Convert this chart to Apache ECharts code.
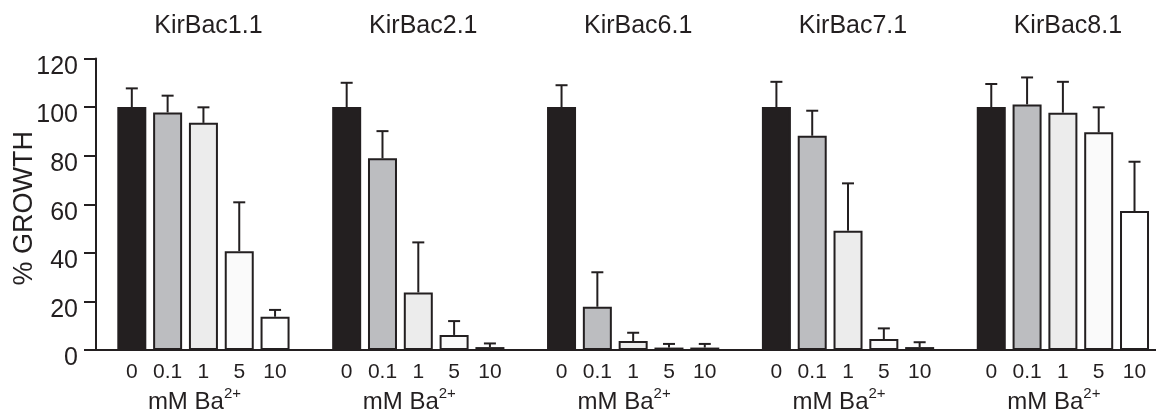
<!DOCTYPE html>
<html>
<head>
<meta charset="utf-8">
<script src="https://cdn.jsdelivr.net/npm/echarts@6/dist/echarts.min.js"></script>
<style>
  html, body { margin: 0; padding: 0; background: #ffffff; }
  #main { width: 1156px; height: 415px; }
</style>
</head>
<body>
<div id="main"></div>
<script>
// ---- data ----
const doses = ['0', '0.1', '1', '5', '10'];
const panels = ['KirBac1.1', 'KirBac2.1', 'KirBac6.1', 'KirBac7.1', 'KirBac8.1'];
const yTicks = [0, 20, 40, 60, 80, 100, 120];

const kirBac11Growth = [100, 97.8, 93.5, 40.7, 13.7];
const kirBac11Error  = [7.7, 6.9, 6.4, 20.1, 2.8];
const kirBac21Growth = [100, 78.9, 23.7, 6.2, 1.2];
const kirBac21Error  = [10.0, 11.2, 20.6, 5.7, 1.5];
const kirBac61Growth = [100, 17.8, 3.7, 1.0, 1.0];
const kirBac61Error  = [9.0, 14.2, 3.4, 1.5, 1.5];
const kirBac71Growth = [100, 88.2, 49.1, 4.5, 1.2];
const kirBac71Error  = [10.4, 10.3, 19.5, 4.4, 2.0];
const kirBac81Growth = [100, 101.1, 97.7, 89.6, 57.2];
const kirBac81Error  = [9.5, 11.1, 12.7, 10.3, 20.3];

// ---- styles ----
const ink = '#231f20';
const doseColors = ['#231f20', '#bcbdc0', '#ececec', '#fafafa', '#ffffff'];
const fontFamily = '"Liberation Sans", Arial, Helvetica, sans-serif';

const panelGrowth = [kirBac11Growth, kirBac21Growth, kirBac61Growth, kirBac71Growth, kirBac81Growth];
const panelError = [kirBac11Error, kirBac21Error, kirBac61Error, kirBac71Error, kirBac81Error];
const slotsPerPanel = doses.length + 1; // one empty slot between panels

const barData = [];
const errData = [];
panels.forEach((p, k) => {
  doses.forEach((d, j) => {
    const x = k * slotsPerPanel + j;
    const v = panelGrowth[k][j];
    barData.push({ value: [x, v], itemStyle: { color: doseColors[j] } });
    errData.push([x, v, v + panelError[k][j]]);
  });
});
const lastSlot = panels.length * slotsPerPanel - 1;

const chart = echarts.init(document.getElementById('main'), null, { renderer: 'canvas' });

const option = {
  animation: false,
  backgroundColor: '#ffffff',
  textStyle: { fontFamily: fontFamily, color: ink },
  grid: { left: 96, right: 0, top: 58.5, bottom: 65, containLabel: false, outerBoundsMode: 'none' },
  xAxis: {
    type: 'value',
    min: -1,
    max: lastSlot - 0.4,
    interval: 1,
    axisLine: { show: true, onZero: false, lineStyle: { color: ink, width: 2 } },
    axisTick: { show: false },
    splitLine: { show: false },
    axisLabel: {
      show: true,
      margin: 12,
      fontSize: 21,
      color: ink,
      fontFamily: fontFamily,
      showMinLabel: true,
      showMaxLabel: false,
      formatter: function (v) {
        const i = Math.round(v);
        if (i < 0 || Math.abs(v - i) > 1e-6) return '';
        const slot = i % slotsPerPanel;
        return slot < doses.length ? doses[slot] : '';
      }
    }
  },
  yAxis: {
    type: 'value',
    min: yTicks[0],
    max: yTicks[yTicks.length - 1],
    interval: yTicks[1] - yTicks[0],
    name: '% GROWTH',
    nameLocation: 'middle',
    nameGap: 58,
    nameMoveOverlap: false,
    nameTextStyle: { fontSize: 27, color: ink, fontFamily: fontFamily, padding: [0, 8, 0, 0] },
    axisLine: { show: true, onZero: false, lineStyle: { color: ink, width: 2 } },
    axisTick: { show: true, inside: false, length: 12, lineStyle: { color: ink, width: 2 } },
    splitLine: { show: false },
    axisLabel: {
      fontSize: 25,
      color: ink,
      fontFamily: fontFamily,
      margin: 18,
      verticalAlign: 'top',
      lineHeight: 17
    }
  },
  series: [
    {
      type: 'bar',
      data: barData,
      barWidth: 29,
      itemStyle: { borderColor: ink, borderWidth: 2 },
      z: 2
    },
    {
      type: 'custom',
      data: errData,
      encode: { x: 0, y: [1, 2] },
      z: 3,
      renderItem: function (params, api) {
        const x = api.value(0);
        const lo = api.coord([x, api.value(1)]);
        const hi = api.coord([x, api.value(2)]);
        const cap = 6;
        return {
          type: 'group',
          children: [
            { type: 'line', shape: { x1: lo[0], y1: lo[1], x2: hi[0], y2: hi[1] }, style: { stroke: ink, lineWidth: 2 } },
            { type: 'line', shape: { x1: hi[0] - cap, y1: hi[1], x2: hi[0] + cap, y2: hi[1] }, style: { stroke: ink, lineWidth: 2 } }
          ]
        };
      }
    }
  ]
};
chart.setOption(option);

// panel titles and unit labels, placed from the axis scale
const graphics = [];
panels.forEach((p, k) => {
  const cx = chart.convertToPixel({ xAxisIndex: 0 }, k * slotsPerPanel + (doses.length - 1) / 2);
  graphics.push({
    type: 'text',
    x: cx + 5,
    y: 26,
    style: { text: p, fontSize: 25, fontFamily: fontFamily, fill: ink, align: 'center', verticalAlign: 'middle' }
  });
  graphics.push({
    type: 'text',
    x: cx - 9,
    y: 386,
    style: {
      text: '{a|mM Ba}{s|2+}',
      align: 'center',
      verticalAlign: 'top',
      fill: ink,
      rich: {
        a: { fontSize: 24, fontFamily: fontFamily, fill: ink, lineHeight: 28, verticalAlign: 'bottom' },
        s: { fontSize: 15, fontFamily: fontFamily, fill: ink, lineHeight: 28, verticalAlign: 'top' }
      }
    }
  });
});
chart.setOption({ graphic: graphics });
</script>
</body>
</html>
